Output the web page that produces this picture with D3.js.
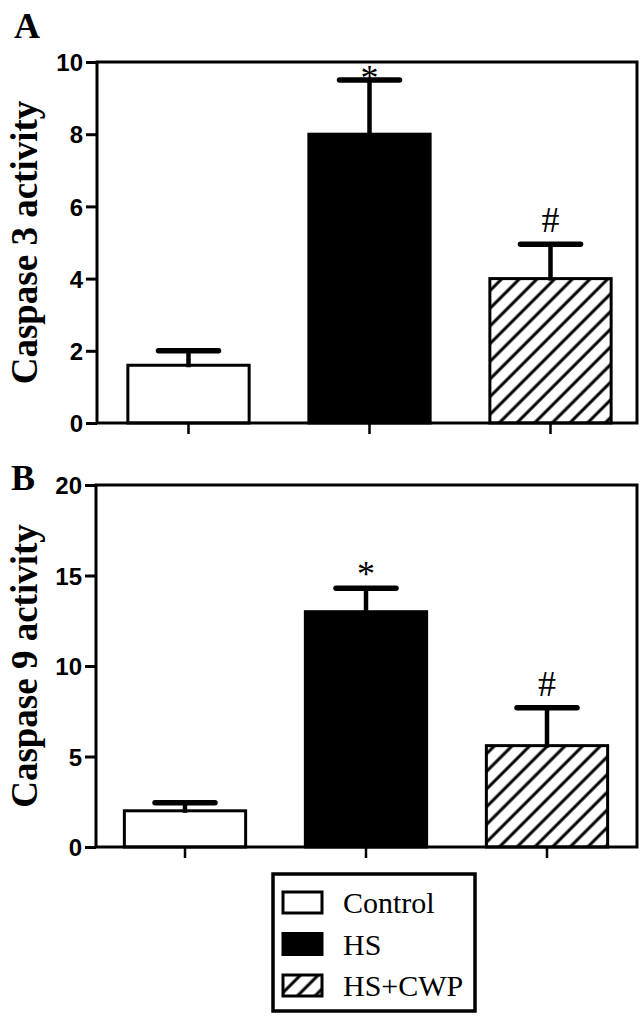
<!DOCTYPE html>
<html>
<head>
<meta charset="utf-8">
<script src="https://cdn.jsdelivr.net/npm/d3@7/dist/d3.min.js"></script>
<style>
  html, body { margin: 0; padding: 0; background: #fff; }
  svg { display: block; }
</style>
</head>
<body>
<svg id="chart" width="644" height="1019"></svg>
<script>
// ---- data ----
const categories = ["Control", "HS", "HS+CWP"];
const caspase3Mean = [1.6, 8.0, 4.0];
const caspase3Sem  = [0.4, 1.5, 0.95];
const caspase9Mean = [2.0, 13.0, 5.6];
const caspase9Sem  = [0.45, 1.3, 2.1];
const caspase3Ticks = [0, 2, 4, 6, 8, 10];
const caspase9Ticks = [0, 5, 10, 15, 20];
const significance = ["", "*", "#"];
const panelLetters = ["A", "B"];
const yLabels = ["Caspase 3 activity", "Caspase 9 activity"];

const svg = d3.select("#chart");

// hatch pattern
const defs = svg.append("defs");
const pat = defs.append("pattern")
  .attr("id", "hatch")
  .attr("patternUnits", "userSpaceOnUse")
  .attr("width", 12.5).attr("height", 12.5)
  .attr("patternTransform", "rotate(45)");
pat.append("rect").attr("width", 12.5).attr("height", 12.5).attr("fill", "#fff");
pat.append("line").attr("x1", 2).attr("y1", 0).attr("x2", 2).attr("y2", 12.5)
  .attr("stroke", "#000").attr("stroke-width", 3);

const fills = ["#fff", "#000", "url(#hatch)"];
const serif = "'Liberation Serif', 'Times New Roman', serif";

function drawPanel(cfg) {
  const g = svg.append("g");
  const y = d3.scaleLinear().domain([0, cfg.ticks[cfg.ticks.length - 1]])
    .range([cfg.bottom, cfg.top]);
  const x = d3.scaleBand().domain(categories)
    .range([cfg.barLeft, cfg.barRight]).paddingInner(0.33).paddingOuter(0.165);

  // bars
  g.selectAll("rect.bar").data(categories).enter().append("rect")
    .attr("x", d => x(d))
    .attr("width", x.bandwidth())
    .attr("y", (d, i) => y(cfg.mean[i]))
    .attr("height", (d, i) => y(0) - y(cfg.mean[i]))
    .attr("fill", (d, i) => fills[i])
    .attr("stroke", "#000").attr("stroke-width", 3);

  // error bars
  const cx = d => x(d) + x.bandwidth() / 2;
  g.selectAll("line.err").data(categories).enter().append("line")
    .attr("x1", cx).attr("x2", cx)
    .attr("y1", (d, i) => y(cfg.mean[i]) + 2)
    .attr("y2", (d, i) => y(cfg.mean[i] + cfg.sem[i]))
    .attr("stroke", "#000").attr("stroke-width", 4.5);
  g.selectAll("line.cap").data(categories).enter().append("line")
    .attr("x1", d => cx(d) - 30).attr("x2", d => cx(d) + 30)
    .attr("y1", (d, i) => y(cfg.mean[i] + cfg.sem[i]))
    .attr("y2", (d, i) => y(cfg.mean[i] + cfg.sem[i]))
    .attr("stroke", "#000").attr("stroke-width", 5.5)
    .attr("stroke-linecap", "round");

  // frame
  g.append("rect")
    .attr("x", cfg.left).attr("y", cfg.top)
    .attr("width", cfg.right - cfg.left).attr("height", cfg.bottom - cfg.top)
    .attr("fill", "none").attr("stroke", "#000").attr("stroke-width", 3);

  // significance marks
  g.selectAll("text.sig").data(categories).enter().append("text")
    .attr("x", cx)
    .attr("y", (d, i) => {
      const top = y(cfg.mean[i] + cfg.sem[i]);
      if (significance[i] === "*") return top + cfg.starOffset;
      return top - 12;
    })
    .attr("text-anchor", "middle")
    .attr("font-family", serif)
    .attr("font-size", 36)
    .text((d, i) => significance[i]);

  // y axis
  const yAxis = d3.axisLeft(y).tickValues(cfg.ticks).tickSize(11).tickPadding(3)
    .tickFormat(d3.format("d"));
  const ya = g.append("g").attr("transform", `translate(${cfg.left},0)`).call(yAxis);
  ya.select(".domain").remove();
  ya.selectAll(".tick line").attr("stroke", "#000").attr("stroke-width", 3);
  ya.selectAll(".tick text")
    .attr("font-family", "'Liberation Sans', Arial, sans-serif")
    .attr("font-weight", "bold").attr("font-size", 24).attr("fill", "#000")
    .attr("dy", "0.36em");

  // x axis ticks
  const xAxis = d3.axisBottom(x).tickSize(11).tickFormat("");
  const xa = g.append("g").attr("transform", `translate(0,${cfg.bottom})`).call(xAxis);
  xa.select(".domain").remove();
  xa.selectAll(".tick line").attr("stroke", "#000").attr("stroke-width", 2.5);

  // y label
  g.append("text")
    .attr("transform", `translate(${cfg.labelX},${(cfg.top + cfg.bottom) / 2}) rotate(-90)`)
    .attr("text-anchor", "middle")
    .attr("font-family", serif)
    .attr("font-weight", "bold").attr("font-size", 37)
    .text(cfg.label);

  // panel letter
  g.append("text")
    .attr("x", cfg.letterX).attr("y", cfg.letterY)
    .attr("font-family", serif)
    .attr("font-weight", "bold").attr("font-size", 36)
    .text(cfg.letter);
}

drawPanel({
  mean: caspase3Mean, sem: caspase3Sem, ticks: caspase3Ticks,
  top: 62, bottom: 423, left: 97, right: 637, barLeft: 98, barRight: 641,
  label: yLabels[0], labelX: 37, letter: panelLetters[0], letterX: 14, letterY: 38,
  starOffset: 10
});
drawPanel({
  mean: caspase9Mean, sem: caspase9Sem, ticks: caspase9Ticks,
  top: 485, bottom: 847, left: 96, right: 637, barLeft: 94.5, barRight: 637.5,
  label: yLabels[1], labelX: 37, letter: panelLetters[1], letterX: 11, letterY: 490,
  starOffset: -2
});

// legend
const lg = svg.append("g");
lg.append("rect").attr("x", 273).attr("y", 874).attr("width", 202).attr("height", 137)
  .attr("fill", "#fff").attr("stroke", "#000").attr("stroke-width", 3.5);
const ly = d3.scalePoint().domain(categories).range([902, 985]);
lg.selectAll("rect.sw").data(categories).enter().append("rect")
  .attr("x", 283).attr("width", 39)
  .attr("y", d => ly(d) - 10).attr("height", 21)
  .attr("fill", (d, i) => fills[i])
  .attr("stroke", "#000").attr("stroke-width", 3);
lg.selectAll("text.lt").data(categories).enter().append("text")
  .attr("x", 343).attr("y", d => ly(d) + 11)
  .attr("font-family", serif)
  .attr("font-size", 30)
  .text(d => d);
</script>
</body>
</html>
